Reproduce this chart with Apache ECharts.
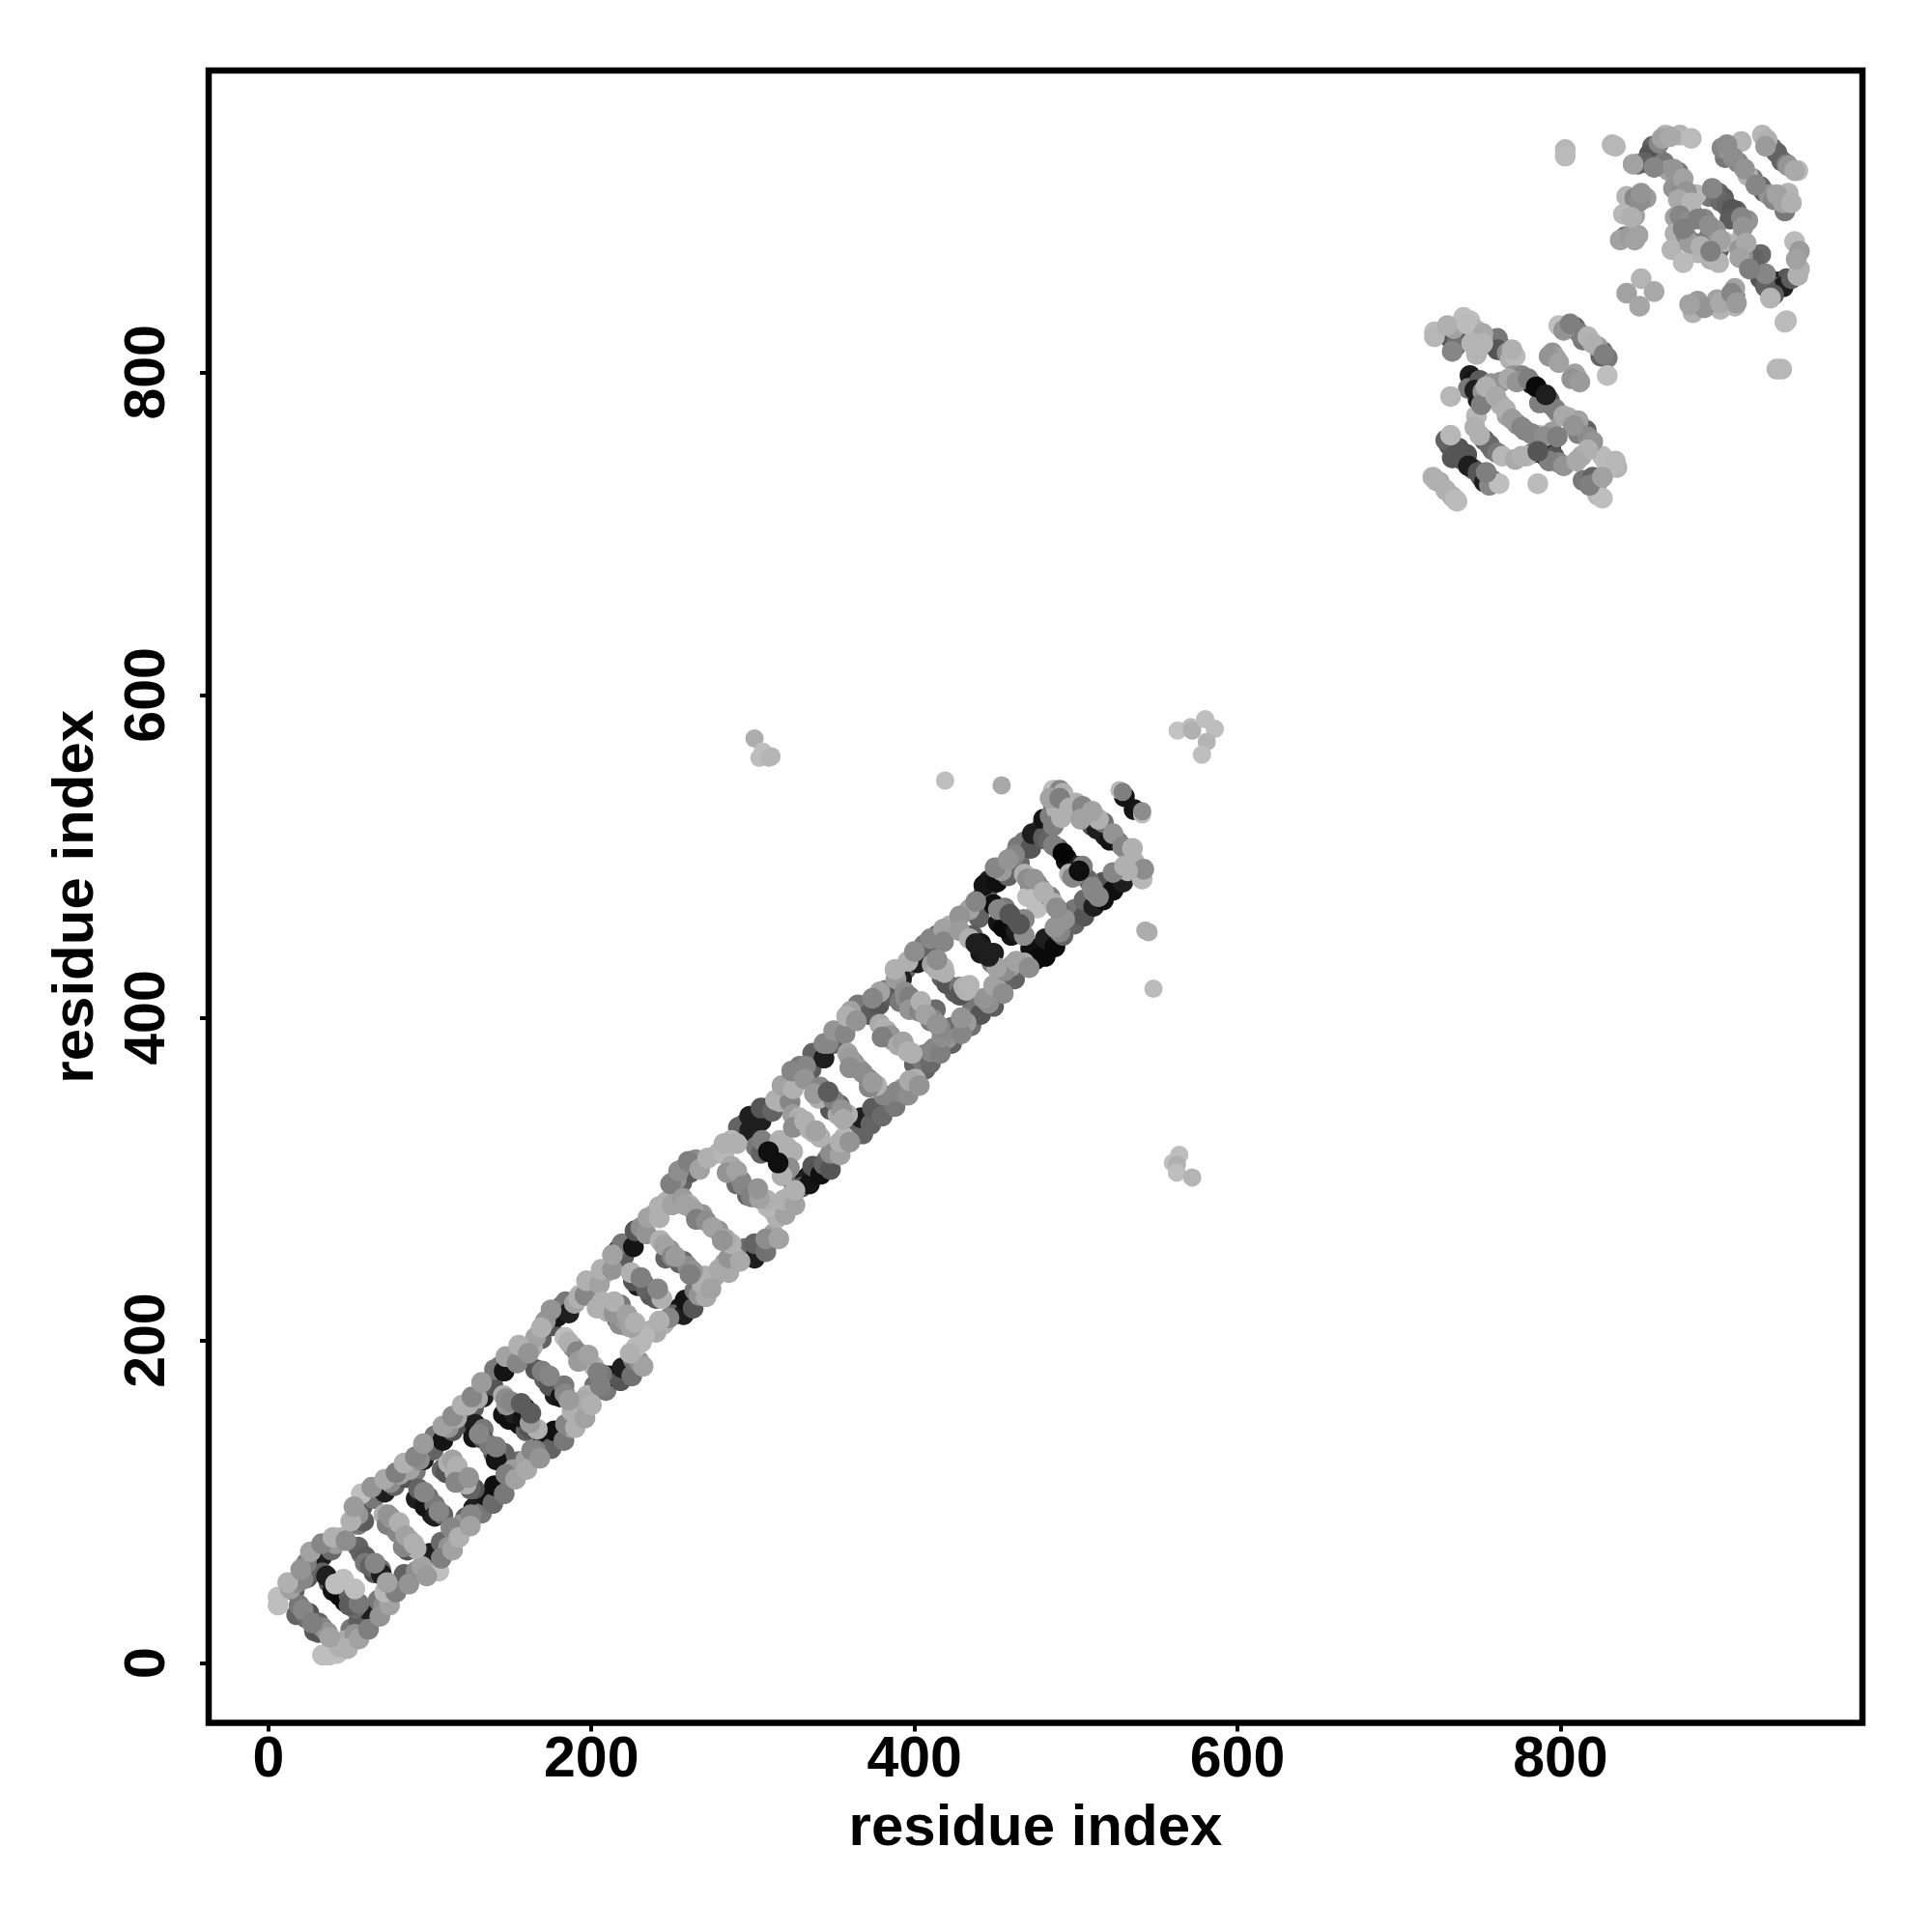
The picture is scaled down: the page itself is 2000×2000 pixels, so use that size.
<!DOCTYPE html>
<html><head><meta charset="utf-8">
<style>html,body{margin:0;padding:0;background:#fff}#c{width:2000px;height:2000px}</style>
<script src="https://cdn.jsdelivr.net/npm/echarts@6/dist/echarts.min.js"></script>
</head><body><div id="c"></div>
<script>
// each row: [residue x, residue y, grey level]
const tickValues=[0,200,400,600,800];
const upperRail=[[6,41,190],[6,36,190],[13.5,46,150],[17.5,50,120],[21.5,52,110],[23.5,62,100],[29.5,66,60],[35.5,70,50],[41.5,74,140],[45.5,78,180],[55.5,86,90],[55.5,92,130],[57.5,105,190],[61.5,102,70],[69.5,108,50],[75.5,112,120],[81.5,117,150],[87.5,120,150],[93.5,126,120],[99.5,134,40],[105.5,140,60],[111.5,146,130],[116.5,152,160],[123.5,160,170],[129.5,164,160],[135.5,174,50],[143.5,184,90],[151.5,190,150],[157.5,194,180],[163.5,196,170],[165.5,202,150],[171.5,212,130],[175.5,217,60],[181.5,221,40],[189.5,223,150],[192.6,228,180],[200.6,236,160],[208.6,242,170],[216.6,256,30],[222.6,260,20],[230.6,270,120],[238.6,278,160],[246.6,286,170],[252.6,300,130],[256.6,306,70],[264.6,312,120],[278.6,316,170],[286.6,324,180],[294.6,334,50],[302.6,340,40],[308.6,344,50],[316.6,348,170],[320.6,354,170],[326.6,364,170],[332.6,370,110],[340.6,378,40],[346.6,384,110],[354.6,392,130],[360.6,404,150],[370.6,408,70],[378.6,416,150],[388.6,424,140],[394.6,430,60],[396,435,170],[406,445,90],[414,451,70],[422,457,170],[434,467,150],[442,475,30],[446,485,30],[454,491,140],[462,501,110],[468,509,90],[478,517,40],[484,525,100],[488,529,170],[486,541,190],[490,541,110],[492,539,170],[494,535,180],[500,533,170],[508,527,120],[510,519,40],[514,523,170],[518,513,30],[526,509,90],[532,503,170],[536,497,170],[541,486,180],[542,492,120]];
const upperRailInner=[[16,45,60],[12,50,170],[24,53,40],[20,58,130],[28,62,90],[26,69,150],[33,66,30],[33,74,110],[39,70,70],[40,78,170],[48,76,120],[51,88,170],[59,88,50],[53,97,140],[58,97,40],[65,102,90],[64,109,130],[72,106,30],[72,114,160],[78,110,60],[79,118,100],[85,115,40],[84,124,170],[91,119,90],[91,128,110],[96,126,30],[96,136,140],[102,132,60],[103,141,90],[108,138,20],[108,147,150],[114,144,40],[114,153,120],[120,152,90],[120,160,170],[127,158,50],[126,165,110],[133,165,30],[132,174,140],[139,172,40],[140,182,90],[146,181,20],[147,190,150],[154,186,110],[155,197,170],[161,192,130],[169,201,60],[169,208,170],[175,209,40],[175,219,130],[179,215,20],[184,224,90],[186,217,30],[192,226,170],[196,228,110],[197,237,170],[205,235,150],[206,244,170],[213,244,130],[213,253,150],[220,252,50],[219,260,90],[226,258,20],[227,268,40],[234,266,130],[235,276,150],[242,276,170],[242,283,170],[250,284,150],[249,297,100],[256,298,60],[254,305,120],[261,304,50],[260,311,100],[267,306,150],[272,313,170],[282,316,180],[282,322,170],[290,322,170],[291,332,60],[298,330,30],[298,339,30],[305,336,30],[305,344,40],[312,342,60],[314,349,170],[323,348,110],[318,358,150],[325,356,170],[324,367,110],[332,362,130],[329,370,90],[336,368,50],[337,378,60],[344,375,30],[344,384,110],[350,384,50],[350,392,130],[357,390,110],[358,401,170],[364,398,130],[365,408,90],[372,402,50],[374,412,110],[378,408,40],[382,417,90],[385,414,50],[388,430,170],[392,424,30],[400,441,120],[402,434,30],[410,449,110],[410,441,60],[418,455,150],[418,447,110],[428,463,130],[428,454,140],[438,472,110],[440,462,60],[445,478,40],[449,470,15],[443,482,20],[451,484,15],[450,493,110],[458,488,60],[458,498,130],[465,496,70],[464,506,90],[472,505,40],[473,514,30],[480,512,50],[480,523,20],[486,519,100],[486,532,60],[491,524,170],[484,536,150],[490,536,100],[496,530,170],[504,531,110],[503,523,150],[510,528,150],[513,517,30],[517,521,80],[521,510,20],[523,514,130],[529,506,110],[535,505,170],[539,491,60]];
const lowerRail=[[33.5,5,190],[37.5,5,190],[42.5,6,190],[47.5,14,160],[53.5,18,130],[59.5,24,70],[64.5,30,80],[71.5,36,120],[75.5,46,170],[81.5,50,90],[91.5,57,120],[105.5,57,190],[103.5,68,60],[111.5,72,130],[115.5,82,150],[119.5,86,130],[125.5,92,110],[129.5,98,60],[137.5,104,40],[143.5,110,70],[151.5,120,140],[159.5,126,150],[165.5,132,100],[173.5,136,40],[179.5,141,60],[187.5,146,140],[191.5,154,170],[193.5,158,190],[197.5,166,170],[205.5,172,100],[215.5,178,40],[223.5,182,60],[229.5,187,120],[227.6,196,190],[236.6,206,170],[244.6,210,170],[254.6,220,20],[260.6,224,40],[266.6,228,130],[268.6,235,170],[276.6,240,160],[282.6,248,150],[288.6,252,170],[298.6,254,50],[304.6,258,50],[312.6,266,150],[312.6,280,180],[316.6,282,170],[322.6,289,180],[325.6,296,70],[332.6,300,20],[334.6,302,30],[338.6,304,30],[340.6,306,30],[345.6,312,90],[350.6,320,170],[356.6,326,180],[364.6,330,70],[370.6,336,40],[376.6,342,40],[384.6,348,90],[392.6,356,130],[400.6,362,170],[400,371,60],[406.6,368,60],[406,377,90],[412,381,110],[420,387,130],[426,391,40],[432,397,140],[438,405,50],[446,409,120],[452,417,170],[458,426,90],[460,432,140],[468,434,160],[478,441,15],[484,447,20],[490,453,110],[496,462,90],[502,465,70],[508,471,50],[514,475,110],[520,481,20],[526,487,60],[532,491,170]];
const lowerRailInner=[[44,10,170],[49,9,170],[51,21,90],[56,15,150],[56,26,50],[62,21,100],[62,33,30],[69,29,130],[68,39,90],[75,36,150],[72,44,180],[79,44,100],[84,55,60],[87,49,130],[95,60,150],[98,54,140],[100,68,30],[107,65,100],[107,75,70],[114,70,150],[113,84,110],[118,78,170],[122,90,60],[125,85,150],[127,96,30],[132,93,90],[134,104,20],[139,99,70],[140,110,15],[146,105,90],[147,117,100],[153,114,150],[155,125,70],[160,120,160],[163,132,110],[168,127,130],[170,138,20],[175,133,60],[177,144,15],[183,138,90],[184,148,110],[190,146,170],[188,156,170],[196,152,150],[195,163,160],[200,160,170],[202,172,80],[209,169,90],[211,178,15],[218,175,40],[219,183,30],[225,178,80],[226,188,90],[232,184,150],[231,199,180],[224,192,170],[240,205,160],[233,203,180],[248,214,110],[242,212,170],[251,216,60],[257,216,30],[258,225,20],[263,220,40],[264,231,90],[271,227,160],[270,240,170],[274,232,150],[279,244,160],[285,242,160],[285,251,130],[292,249,160],[295,257,70],[301,251,30],[301,260,60],[308,255,80],[308,263,120],[316,263,150],[315,276,170],[309,283,180],[320,278,150],[319,287,170],[326,284,150],[326,293,170],[330,295,40],[335,297,20],[337,308,40],[342,303,15],[344,309,60],[348,306,40],[348,316,120],[354,315,150],[354,323,170],[360,323,130],[361,333,50],[368,328,60],[367,338,30],[373,334,60],[374,344,50],[380,339,70],[381,352,110],[388,345,90],[389,354,110],[396,352,120],[397,361,160],[403,358,130],[404,374,90],[410,372,70],[410,379,110],[416,378,100],[417,388,120],[423,384,60],[423,394,70],[429,390,110],[429,400,130],[435,395,80],[436,407,90],[441,402,40],[443,412,130],[449,407,50],[449,420,150],[455,415,120],[456,429,120],[462,424,60],[463,435,150],[471,431,120],[472,443,15],[475,436,10],[481,438,10],[481,449,30],[487,444,10],[487,456,130],[492,451,60],[493,461,130],[499,458,60],[499,467,90],[505,463,40],[505,473,70],[511,469,30],[511,478,110],[517,473,15],[517,484,40],[523,479,15],[523,490,110],[529,484,30],[530,494,170]];
const rungsLow=[[21.5,33,110],[17.5,30,60],[23.5,28,70],[33.5,22,110],[36.5,19,130],[28.5,20,50],[33.5,56,60],[37.5,50,40],[41.5,49,190],[46.5,52,190],[53.5,46,190],[47.5,38,20],[53.5,34,70],[57.5,68,70],[55.5,72,60],[69.5,58,70],[65.5,56,40],[73.5,50,150],[71.5,92,170],[77.5,84,130],[73.5,86,100],[87.5,76,120],[91.5,71,170],[83.5,72,110],[96.5,106,110],[91.5,102,30],[105.5,94,110],[101.5,92,30],[107.5,120,60],[111.5,124,170],[115.5,118,170],[122.5,111,170],[127.5,108,40],[125.5,146,40],[130.5,142,110],[139.5,130,50],[143.5,128,70],[145.5,124,40],[145.5,154,20],[145.5,166,170],[147.5,160,130],[155.5,148,20],[159.5,144,60],[166.5,145,170],[165.5,182,40],[169.5,181,100],[177.5,166,30],[179.5,170,80],[183.5,167,110],[183.5,202,190],[188.5,196,120],[196.5,188,150],[201.5,184,170],[206.5,179,90],[203.5,220,170],[213.5,220,130],[219.5,210,100],[222.5,214,130]];
const rungsLowFill=[[19,36,90],[25,31,40],[27,25,100],[31,25,60],[38,16,150],[31,19,40],[36,54,30],[40,45,20],[44,42,10],[50,42,60],[50,36,50],[56,37,90],[60,66,50],[60,62,90],[63,60,60],[66,62,110],[70,55,30],[76,90,140],[74,92,130],[80,81,110],[81,87,170],[85,79,150],[90,74,170],[86,70,40],[93,108,60],[99,103,80],[97,97,20],[103,98,90],[103,91,30],[108,92,60],[114,126,150],[110,118,40],[117,122,170],[119,114,170],[116,112,110],[124,115,130],[125,108,60],[128,148,30],[133,145,90],[127,140,20],[133,139,40],[137,135,90],[141,134,100],[146,130,60],[141,126,20],[147,164,120],[149,157,40],[150,162,110],[149,151,15],[152,155,30],[159,158,25],[158,152,20],[162,149,140],[162,145,40],[171,176,60],[174,178,110],[174,172,40],[181,165,20],[183,172,90],[186,163,140],[186,199,170],[191,193,110],[192,187,140],[198,191,150],[204,180,100],[210,218,150],[216,217,110],[216,213,80],[222,209,150],[218,222,90]];
const rungsMid=[[206.6,224,170],[212.6,222,150],[217.6,210,120],[220.6,213,140],[224.6,208,150],[224.6,242,170],[230.6,239,100],[228.6,234,30],[236.6,228,40],[238.6,230,90],[243.6,226,170],[242.6,262,170],[248.6,256,130],[254.6,248,60],[259.6,246,120],[262.6,243,130],[256.6,288,140],[260.6,284,170],[268.6,278,130],[278.6,268,130],[286.6,260,170],[286.6,308,160],[288.6,302,70],[292.6,299,100],[296.6,290,60],[300.6,292,120],[308.6,287,170],[305.6,324,100],[316.6,324,170],[324.6,317,170],[318.6,307,170],[322.6,307,120],[324.6,340,140],[328.6,338,170],[337.6,329,170],[341.6,326,170],[340.6,350,170],[341.6,357,110],[352.6,340,160],[353.6,346,60],[358.6,340,170],[358.6,378,150],[362.6,372,130],[371.6,362,110],[376.6,358,170],[378.6,396,160],[382.6,392,150],[386.6,386,150],[394.6,381,170],[398.6,378,170]];
const rungsMidFill=[[209,219,170],[214,217,130],[214,224,170],[222,216,150],[227,211,170],[232,236,90],[226,237,40],[234,232,60],[240,226,50],[241,232,110],[245,259,150],[250,252,110],[246,251,60],[252,252,140],[257,249,70],[261,241,100],[258,284,150],[263,281,150],[265,275,100],[271,274,120],[275,270,150],[283,263,160],[281,262,130],[284,304,130],[290,305,150],[290,297,70],[294,296,110],[299,289,100],[304,288,150],[303,294,130],[321,320,170],[312,320,60],[302,320,90],[305,316,60],[318,302,170],[327,335,160],[325,332,120],[332,336,170],[335,331,170],[339,330,150],[344,352,80],[338,353,140],[350,349,100],[348,343,40],[355,343,130],[356,337,160],[360,375,140],[366,368,140],[360,369,120],[368,366,120],[372,357,110],[374,360,140],[381,393,170],[385,389,130],[380,388,100],[390,383,160],[393,385,150],[396,379,170]];
const rungsTop=[[394,416,120],[394.6,412,120],[400,406,170],[400.6,408,160],[410,398,90],[416,394,110],[411.6,399,110],[411,433,150],[418,431,180],[417,425,60],[425,416,50],[432,417,175],[418.6,428,170],[424.6,418,50],[430.6,419,170],[434,449,170],[451,431,150],[452,467,110],[452,459,20],[460,451,20],[468,451,120],[468,489,170],[472,481,40],[476,483,110],[470,475,190],[476,468,190],[484,475,100],[486,471,170],[490,466,70],[480,511,50],[486,507,100],[496,489,170],[508,485,80]];
const rungsTopFill=[[397,413,100],[391,410,90],[397,405,130],[403,404,110],[404,410,170],[407,402,150],[414,396,130],[413,405,70],[414,430,170],[414,436,120],[420,421,40],[428,419,90],[428,414,40],[434,420,175],[436,451,50],[441,446,20],[443,442,30],[448,434,90],[441,440,25],[449,440,30],[455,461,30],[456,468,90],[455,456,10],[463,454,30],[468,461,110],[463,461,50],[470,486,120],[474,486,130],[478,480,60],[473,477,60],[480,478,170],[488,468,120],[483,510,60],[489,505,60],[494,499,20],[494,497,15],[500,494,30],[505,488,60],[504,494,100],[498,487,110],[510,481,110]];
const strays=[[419,547,190],[454,544,160],[527,541,180],[529,540,100],[541,526,190],[541,528,120],[543,454,165],[545,453,165],[548,418,185],[563,578,195],[571,580,185],[572,578,170],[580,585,190],[586,579,190],[581,571,175],[578,563,190],[560,310,190],[564,315,190],[562.5,309,170],[562.5,304,190],[572,301,175],[301,573,165],[304,561,190],[306,565,190],[310,561,180],[311.5,562,175]];
const lowerBlob=[[722,825,185],[722,822,180],[734,827,150],[733,824,90],[732,821,40],[733,813,110],[740,834,190],[744,832,190],[748,826,175],[749,814,170],[748,811,175],[759,818,80],[763,816,60],[767,812,120],[769,808,170],[772,810,185],[744,798,30],[748,793,80],[752,788,130],[749,783,30],[732,785,180],[759,789,170],[763,794,130],[771,798,130],[776,798,110],[794,780,90],[799,774,140],[805,772,170],[811,770,150],[763,780,170],[767,773,150],[773,768,130],[778,764,100],[787,761,180],[795,763,140],[748,773,180],[747,766,170],[753,758,50],[758,752,80],[764,748,180],[732,761,180],[731,755,40],[735,750,60],[739,746,50],[746,740,60],[751,735,40],[756,730,110],[762,731,190],[721,735,170],[725,732,160],[733,723,170],[736,720,190],[772,746,160],[779,748,180],[791,748,30],[794,752,20],[799,744,110],[786,731,185],[813,766,50],[811,762,100],[817,760,120],[813,748,160],[826,748,185],[831,744,190],[835,741,175],[829,740,185],[814,733,90],[823,732,110],[823,724,180],[826,722,190],[799,829,190],[809,828,70],[812,824,100],[817,822,175],[823,816,140],[826,813,60],[829,809,90],[829,798,190],[795,812,130],[797,809,150],[810,797,140],[809,799,150]];
const lowerBlobFill=[[730,829,170],[736,820,60],[735,816,80],[742,830,185],[752,824,160],[745,818,175],[752,818,175],[761,821,90],[765,813,80],[761,814,40],[770,814,170],[746,795,20],[743,790,90],[750,795,50],[754,785,60],[751,780,100],[747,789,30],[757,793,130],[754,791,170],[768,796,160],[773,794,130],[780,796,100],[782,793,30],[787,781,100],[793,783,50],[797,777,100],[802,773,160],[808,767,130],[760,785,160],[766,777,170],[770,771,140],[776,766,110],[782,762,110],[790,760,120],[798,760,100],[750,761,170],[756,755,70],[761,750,90],[729,758,60],[737,753,40],[733,747,40],[742,749,40],[743,742,30],[749,738,40],[754,738,100],[753,732,30],[758,733,90],[723,733,170],[729,727,170],[735,721,185],[776,748,170],[783,750,90],[788,750,15],[796,748,40],[793,745,100],[802,742,130],[816,764,60],[808,767,90],[820,757,130],[817,752,170],[810,745,160],[828,745,185],[834,745,180],[818,730,100],[820,735,60],[826,735,150],[802,826,130],[806,830,100],[814,820,90],[820,818,170],[825,810,60],[827,811,100],[793,810,130],[799,806,150],[807,796,130],[812,794,140]];
const upperBlob=[[803,938,180],[803,934,185],[832,941,180],[834,940,180],[865,947,180],[874,947,175],[881,945,185],[861,942,110],[859,937,60],[856,932,60],[845,929,150],[848,929,70],[861,928,70],[867,925,150],[873,924,90],[870,914,130],[875,912,120],[884,910,180],[894,914,110],[898,911,70],[901,908,50],[909,900,60],[916,894,130],[900,939,110],[905,937,140],[912,943,175],[910,930,110],[916,922,170],[924,915,70],[929,910,130],[936,906,130],[941,911,175],[939,900,90],[925,947,180],[928,944,170],[931,939,70],[937,931,60],[941,928,130],[947,925,185],[841,909,175],[846,908,110],[853,908,140],[839,898,180],[846,897,150],[837,882,150],[843,884,140],[848,885,150],[871,896,150],[877,897,60],[882,898,90],[889,895,110],[896,888,130],[901,881,175],[871,886,170],[878,884,110],[883,880,90],[885,874,175],[895,870,165],[898,876,60],[869,876,175],[876,868,185],[912,883,175],[911,876,130],[913,872,120],[924,873,70],[921,864,50],[927,861,110],[935,856,30],[940,858,40],[948,864,170],[930,846,175],[930,850,40],[945,881,185],[948,875,140],[850,858,175],[841,849,150],[858,850,160],[849,841,155],[882,837,170],[885,844,140],[897,845,150],[899,839,175],[908,841,175],[908,852,150],[908,847,90],[939,831,185],[940,832,185],[934,802,180],[937,802,180]];
const upperBlobFill=[[863,945,150],[868,946,160],[857,940,60],[855,935,40],[852,930,60],[858,927,110],[864,930,90],[870,926,130],[876,920,150],[878,912,130],[873,907,160],[881,905,175],[896,912,60],[892,909,90],[899,906,70],[903,903,60],[906,901,40],[912,896,110],[905,895,50],[913,890,130],[903,941,120],[902,933,90],[907,933,120],[914,926,130],[919,920,90],[921,916,110],[926,912,60],[932,907,110],[934,910,150],[938,905,150],[943,905,170],[927,940,140],[934,936,60],[940,929,90],[945,925,160],[849,906,120],[850,911,130],[844,896,170],[840,884,90],[846,882,150],[874,897,110],[879,893,120],[885,895,100],[892,891,120],[892,884,90],[899,882,150],[880,880,140],[876,889,100],[887,878,170],[893,870,170],[898,868,175],[893,875,100],[915,880,160],[911,871,150],[917,864,100],[920,870,60],[924,858,40],[929,858,30],[932,853,40],[938,853,30],[943,858,50],[947,860,170],[927,853,60],[932,848,50],[946,870,150],[889,840,130],[880,842,150],[899,843,160],[906,849,110],[909,843,140]];
const darkOnTop=[[492,502,5],[309.6,317,15],[315.6,310,15],[785,791,10],[791,786,30],[786,751,40],[530,537,20],[536,529,20],[502,491,15],[459,464,40],[465,458,40],[438,446,30],[446,438,30],[346.6,354,50],[156.5,161,50],[162.5,155,50]];

const bulk=[...upperRail,...upperRailInner,...lowerRail,...lowerRailInner,...rungsLow,...rungsLowFill,...rungsMid,...rungsMidFill,...rungsTop,...rungsTopFill,...lowerBlob,...lowerBlobFill,...upperBlob,...upperBlobFill];
const rows=[...bulk.filter(r=>r[2]<100),...bulk.filter(r=>r[2]>=100),...darkOnTop];
const tone=g=>{const v=g<35?g:Math.round(g+(190-g)*0.3);return `rgb(${v},${v},${v})`;};
const chart=echarts.init(document.getElementById('c'),null,{renderer:'canvas',width:2000,height:2000});
const axisCommon={type:'value',min:-37,max:987,name:'residue index',nameLocation:'middle',
  nameTextStyle:{fontFamily:'Liberation Sans',fontWeight:'bold',fontSize:60,color:'#000'},
  splitLine:{show:false},axisLine:{show:false,onZero:false},
  axisTick:{show:true,length:9,inside:false,customValues:tickValues,lineStyle:{color:'#000',width:4}},
  axisLabel:{show:true,customValues:tickValues,fontFamily:'Liberation Sans',fontWeight:'bold',fontSize:59,color:'#000',hideOverlap:false}};
chart.setOption({animation:false,backgroundColor:'#fff',
  grid:{left:216,right:72,top:73,bottom:216.5,show:true,borderColor:'#000',borderWidth:6.5,backgroundColor:'transparent'},
  xAxis:{...axisCommon,nameGap:80,axisLabel:{...axisCommon.axisLabel,margin:10}},
  yAxis:{...axisCommon,nameGap:107,nameRotate:90,axisLabel:{...axisCommon.axisLabel,rotate:90,margin:33,align:'center',verticalAlign:'bottom'}},
  series:[
   {type:'scatter',symbol:'circle',symbolSize:21.5,data:rows.map(r=>[r[0],r[1]]),itemStyle:{color:p=>tone(rows[p.dataIndex][2]),opacity:1},z:1},
   {type:'scatter',symbol:'circle',symbolSize:19,data:strays.map(r=>[r[0],r[1]]),itemStyle:{color:p=>tone(strays[p.dataIndex][2]),opacity:1},z:2}]
});
</script></body></html>
